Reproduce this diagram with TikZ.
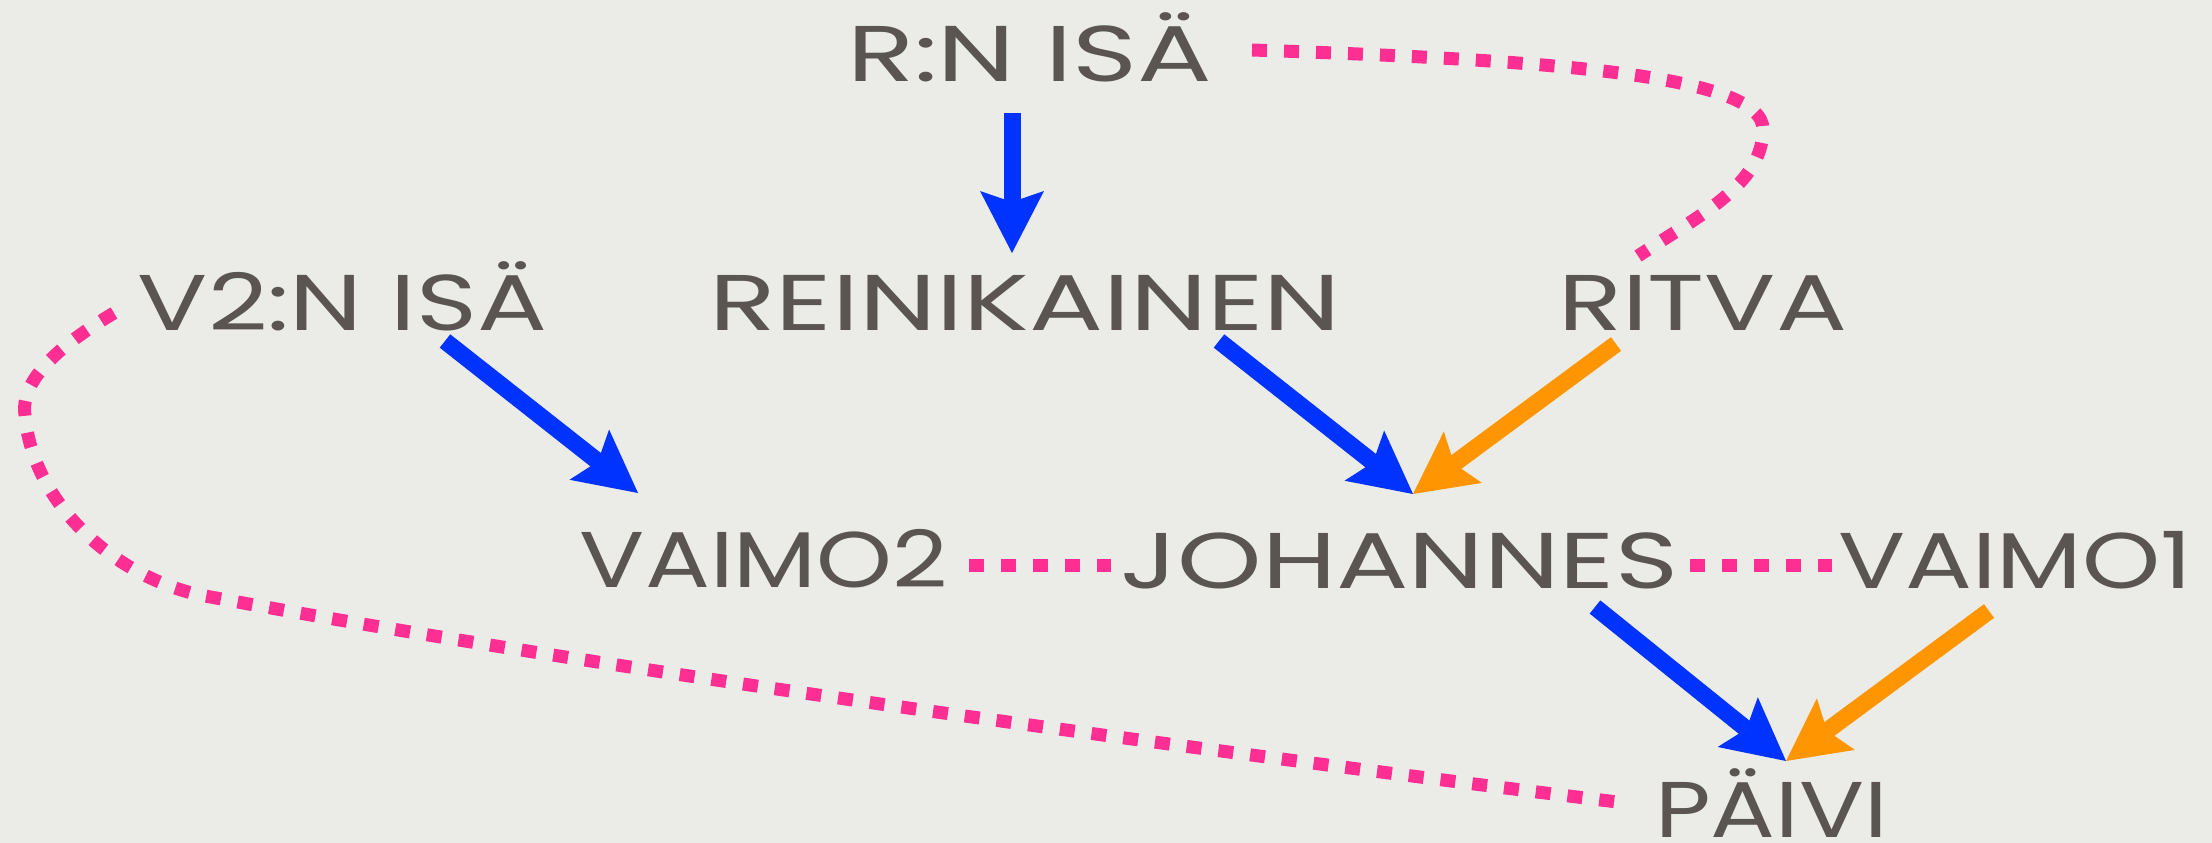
\documentclass[tikz,border=0pt]{standalone}
\usepackage{fontspec}
\setmainfont{Poppins}
\usepackage{graphicx}
\usetikzlibrary{arrows.meta}
\definecolor{bgc}{HTML}{EBECE8}
\definecolor{txt}{HTML}{5A5550}
\definecolor{ablue}{HTML}{0033FF}
\definecolor{aorange}{HTML}{FF9500}
\definecolor{dpink}{HTML}{FF2E93}
\newcommand\fitlbl[2]{\resizebox{#1pt}{\height}{#2}}
\tikzset{
  lab/.style={inner sep=0pt, anchor=base, text=txt, font=\fontsize{79}{95}\selectfont},
  arr/.style={line width=17pt, -{Stealth[length=62pt,width=64pt,inset=11pt,line width=0pt]}},
  barr/.style={arr, draw=ablue},
  oarr/.style={arr, draw=aorange},
  dotl/.style={draw=dpink, line width=13pt, dash pattern=on 15pt off 17pt},
}
\begin{document}
\begin{tikzpicture}[x=1pt,y=-1pt]
\fill[bgc] (0,0) rectangle (2212,843);
\useasboundingbox (0,0) rectangle (2212,843);

% labels
\node[lab] (risa) at (1029.5,82) {\fitlbl{365}{R:N ISÄ}};
\node[lab] (v2isa) at (342.5,330) {\fitlbl{409}{V2:N ISÄ}};
\node[lab] (rein) at (1025,330) {\fitlbl{632}{REINIKAINEN}};
\node[lab] (ritva) at (1702.5,330) {\fitlbl{289}{RITVA}};
\node[lab] (vaimo2) at (764,587) {\fitlbl{368}{VAIMO2}};
\node[lab] (johannes) at (1399.5,588) {\fitlbl{557}{JOHANNES}};
\node[lab] (vaimo1) at (2015,588) {\fitlbl{354}{VAIMO1}};
\node[lab] (paivi) at (1771.5,837) {\fitlbl{233}{PÄIVI}};

% connector end points
\coordinate (risaR) at (1252,50);
\coordinate (ritvaT) at (1638,256);
\coordinate (v2isaL) at (114,313);
\coordinate (paiviL) at (1625,803);
\coordinate (vaimo2R) at (969,565);
\coordinate (johL) at (1111,565);
\coordinate (johR) at (1690,565);
\coordinate (vaimo1L) at (1832,565);

\coordinate (risaB) at (1012,113);
\coordinate (reinT) at (1012,253);
\coordinate (v2isaB) at (445,341);
\coordinate (vaimo2T) at (638,493);
\coordinate (reinB) at (1219,341);
\coordinate (johT) at (1413,494);
\coordinate (ritvaB) at (1616,344);
\coordinate (johB) at (1595,607);
\coordinate (paiviT) at (1786,761);
\coordinate (vaimo1B) at (1989,611);

% dotted links
\draw[dotl] (risaR) .. controls (1550,60) and (1765,75) .. (1763,130)
                    .. controls (1762,185) and (1700,215) .. (ritvaT);
\draw[dotl] (v2isaL) .. controls (60,345) and (20,380) .. (25,415)
                     .. controls (32,500) and (110,575) .. (200,595)
                     .. controls (600,670) and (1200,750) .. (paiviL);
\draw[dotl] (vaimo2R) -- (johL);
\draw[dotl] (johR) -- (vaimo1L);

% arrows
\draw[barr] (risaB) -- (reinT);
\draw[barr] (v2isaB) -- (vaimo2T);
\draw[barr] (reinB) -- (johT);
\draw[oarr] (ritvaB) -- (johT);
\draw[barr] (johB) -- (paiviT);
\draw[oarr] (vaimo1B) -- (paiviT);
\end{tikzpicture}
\end{document}
